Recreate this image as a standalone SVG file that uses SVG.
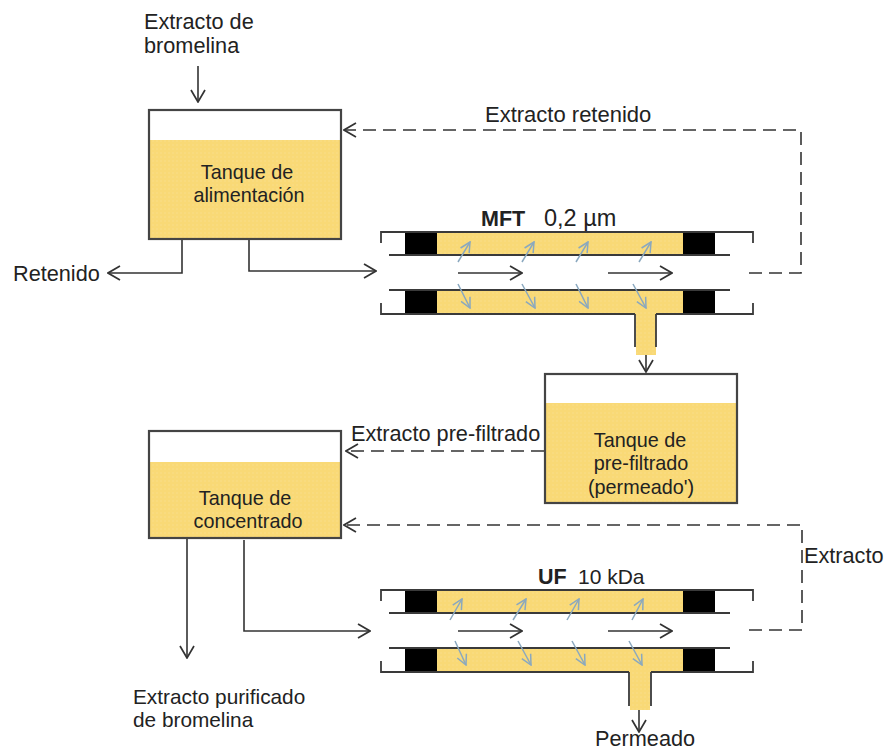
<svg xmlns="http://www.w3.org/2000/svg" width="885" height="750" viewBox="0 0 885 750">
<style>
text{font-family:"Liberation Sans",Arial,sans-serif;fill:#222;font-size:21.7px}
.b{font-weight:bold;font-size:21.5px}
.t{font-size:19.8px}
.out{fill:none;stroke:#444;stroke-width:2.2}
.fill{fill:url(#dots);stroke:none}
.w{fill:none;stroke:#3a3a3a;stroke-width:1.8}
.bk{fill:#000}
.l{fill:none;stroke:#333;stroke-width:1.6}
.d{fill:none;stroke:#333;stroke-width:1.6;stroke-dasharray:13 7}
.bl{fill:none;stroke:#8aa8bf;stroke-width:1.5}
</style>
<defs>
<pattern id="dots" width="4" height="4" patternUnits="userSpaceOnUse"><rect width="4" height="4" fill="#f9d976"/><circle cx="1" cy="1" r="0.7" fill="#fbe08f"/></pattern>
<marker id="a" viewBox="0 0 14 16" refX="13" refY="8" markerWidth="14" markerHeight="16" markerUnits="userSpaceOnUse" orient="auto"><path d="M1 1L13 8L1 15" fill="none" stroke="#333" stroke-width="1.7"/></marker>
<marker id="s" viewBox="0 0 12 12" refX="11" refY="6" markerWidth="12" markerHeight="12" markerUnits="userSpaceOnUse" orient="auto"><path d="M1 1L11 6L1 11" fill="none" stroke="#8aa8bf" stroke-width="1.5"/></marker>
</defs>
<g id="connectors">
<path class="l" d="M198 66V102" marker-end="url(#a)"/>
<path class="d" d="M749 273H801V130H344" marker-end="url(#a)"/>
<path class="l" d="M182 240V273H108" marker-end="url(#a)"/>
<path class="l" d="M249 240V271H376" marker-end="url(#a)"/>
<path class="l" d="M646 325V372" marker-end="url(#a)"/>
<path class="d" d="M544 451H346" marker-end="url(#a)"/>
<path class="d" d="M749 630H802V525H344" marker-end="url(#a)"/>
<path class="l" d="M244 540V631H370" marker-end="url(#a)"/>
<path class="l" d="M187 539V658" marker-end="url(#a)"/>
<path class="l" d="M639 684V732" marker-end="url(#a)"/>
</g>
<g id="tank-alimentacion">
<rect class="fill" x="149" y="140" width="192" height="99"/>
<rect class="out" x="149" y="110" width="192" height="129"/>
<text x="247" y="179" text-anchor="middle" class="t">Tanque de</text>
<text x="249" y="202" text-anchor="middle" class="t">alimentación</text>
</g>
<g id="tank-prefiltrado">
<rect class="fill" x="545" y="403" width="192" height="100"/>
<rect class="out" x="545" y="374" width="192" height="129"/>
<text x="640" y="447" text-anchor="middle" class="t">Tanque de</text>
<text x="641" y="470" text-anchor="middle" class="t">pre-filtrado</text>
<text x="641" y="494" text-anchor="middle" class="t">(permeado')</text>
</g>
<g id="tank-concentrado">
<rect class="fill" x="149" y="462" width="192" height="76"/>
<rect class="out" x="149" y="431" width="192" height="107"/>
<text x="245" y="505" text-anchor="middle" class="t">Tanque de</text>
<text x="248" y="528" text-anchor="middle" class="t">concentrado</text>
</g>
<g id="mft">
<rect class="fill" x="437" y="232" width="246" height="23"/>
<rect class="fill" x="437" y="290" width="246" height="24"/>
<rect class="fill" x="636" y="314" width="20" height="41"/>
<rect class="bk" x="405" y="232" width="32" height="23"/>
<rect class="bk" x="683" y="232" width="32" height="23"/>
<rect class="bk" x="405" y="290" width="32" height="24"/>
<rect class="bk" x="683" y="290" width="32" height="24"/>
<path class="w" d="M381 243V232H753V243M389 255H730M389 290H730M381 303V314H635M656 314H753V303M635 314V347M656 314V347"/>
<path class="l" d="M458 273H522" marker-end="url(#a)"/>
<path class="l" d="M608 273H672" marker-end="url(#a)"/>
<path class="bl" d="M458 262L470 242" marker-end="url(#s)"/>
<path class="bl" d="M522 262L534 242" marker-end="url(#s)"/>
<path class="bl" d="M576 262L588 242" marker-end="url(#s)"/>
<path class="bl" d="M639 262L651 242" marker-end="url(#s)"/>
<path class="bl" d="M458 284L470 308" marker-end="url(#s)"/>
<path class="bl" d="M522 284L535 308" marker-end="url(#s)"/>
<path class="bl" d="M576 284L588 308" marker-end="url(#s)"/>
<path class="bl" d="M633 284L646 308" marker-end="url(#s)"/>
<text x="481" y="226" class="b">MFT</text>
<text x="544" y="226" style="font-size:23.5px">0,2 µm</text>
</g>
<g id="uf">
<rect class="fill" x="437" y="590" width="246" height="23"/>
<rect class="fill" x="437" y="648" width="246" height="24"/>
<rect class="fill" x="630" y="672" width="20" height="38"/>
<rect class="bk" x="405" y="590" width="32" height="23"/>
<rect class="bk" x="683" y="590" width="32" height="23"/>
<rect class="bk" x="405" y="648" width="32" height="24"/>
<rect class="bk" x="683" y="648" width="32" height="24"/>
<path class="w" d="M381 601V590H753V601M389 613H730M389 648H730M381 661V672H629M651 672H753V661M629 672V706M651 672V706"/>
<path class="l" d="M458 631H522" marker-end="url(#a)"/>
<path class="l" d="M608 631H672" marker-end="url(#a)"/>
<path class="bl" d="M450 620L462 599" marker-end="url(#s)"/>
<path class="bl" d="M513 620L526 599" marker-end="url(#s)"/>
<path class="bl" d="M567 620L579 599" marker-end="url(#s)"/>
<path class="bl" d="M632 620L643 599" marker-end="url(#s)"/>
<path class="bl" d="M455 641L466 665" marker-end="url(#s)"/>
<path class="bl" d="M518 641L531 665" marker-end="url(#s)"/>
<path class="bl" d="M572 641L585 665" marker-end="url(#s)"/>
<path class="bl" d="M629 641L642 665" marker-end="url(#s)"/>
<text x="538" y="584" class="b">UF</text>
<text x="578" y="584" style="font-size:21px">10 kDa</text>
</g>
<g id="labels">
<text x="144" y="29">Extracto de</text>
<text x="144" y="53">bromelina</text>
<text x="485" y="122" style="font-size:22px">Extracto retenido</text>
<text x="13" y="281">Retenido</text>
<text x="351" y="441">Extracto pre-filtrado</text>
<text x="804" y="563">Extracto</text>
<text x="133" y="704" style="font-size:20.8px">Extracto purificado</text>
<text x="133" y="727" style="font-size:20.8px">de bromelina</text>
<text x="595" y="746">Permeado</text>
</g>
</svg>
